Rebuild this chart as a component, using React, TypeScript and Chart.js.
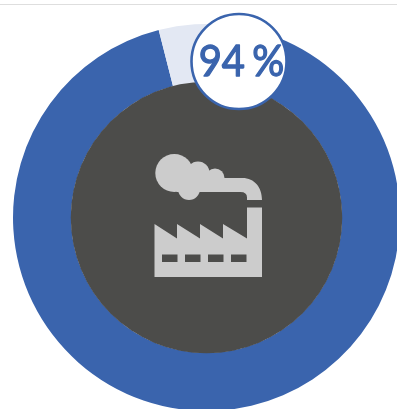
import React, { useEffect, useRef } from "react";
import { Chart, registerables } from "chart.js";

Chart.register(...registerables);

const categories = ["Share", "Remainder"];
const shareValues = [94, 6];
const sliceColors = ["#3A64AD", "#E3E8F3"];
const labelText = "94 %";

const discColor = "#4C4C4A";
const iconColor = "#CCCCCC";

const centerDecor = {
  id: "centerDecor",
  afterDatasetsDraw(chart: any) {
    const arc = chart.getDatasetMeta(0).data[0];
    const { x: cx, y: cy, innerRadius } = arc;
    const ctx = chart.ctx;
    ctx.save();
    // dark disc
    ctx.fillStyle = discColor;
    ctx.beginPath();
    ctx.arc(cx, cy, innerRadius + 0.3, 0, Math.PI * 2);
    ctx.fill();

    // factory icon (origin at the disc centre)
    ctx.translate(cx, cy);
    ctx.fillStyle = iconColor;
    const circle = (x: number, y: number, r: number) => {
      ctx.beginPath();
      ctx.arc(x, y, r, 0, Math.PI * 2);
      ctx.fill();
    };
    circle(-32.2, -44.5, 19);
    circle(-8.5, -44.5, 11.5);
    circle(8.5, -39.5, 9.5);
    circle(-17.5, -28.5, 11);
    // smoke body + pipe
    ctx.beginPath();
    ctx.moveTo(-30, -46);
    ctx.lineTo(3, -46);
    ctx.lineTo(10, -39.5);
    ctx.lineTo(36, -39.5);
    ctx.bezierCurveTo(48, -39.5, 55.5, -30, 55.5, -17.5);
    ctx.lineTo(40.5, -17.5);
    ctx.lineTo(40.5, -20);
    ctx.quadraticCurveTo(40.5, -25.5, 34, -25.5);
    ctx.lineTo(-30, -25.5);
    ctx.closePath();
    ctx.fill();
    // building
    ctx.beginPath();
    ctx.moveTo(-52, 6.5);
    ctx.lineTo(-29.5, 21);
    ctx.lineTo(-29.5, 6.5);
    ctx.lineTo(-6.5, 21);
    ctx.lineTo(-6.5, 6.5);
    ctx.lineTo(16.5, 21);
    ctx.lineTo(16.5, 6.5);
    ctx.lineTo(40.5, 21);
    ctx.lineTo(40.5, -10);
    ctx.lineTo(55.5, -10);
    ctx.lineTo(55.5, 59.5);
    ctx.lineTo(-52, 59.5);
    ctx.closePath();
    ctx.fill();
    // windows
    ctx.fillStyle = discColor;
    [-44.5, -21.5, 1.5, 24.5].forEach((x) => ctx.fillRect(x, 37, 15.5, 7.5));
    ctx.restore();

    // value badge
    ctx.save();
    ctx.beginPath();
    ctx.arc(239, 61.5, 47.5, 0, Math.PI * 2);
    ctx.fillStyle = "#FFFFFF";
    ctx.fill();
    ctx.lineWidth = 2.6;
    ctx.strokeStyle = "#3A64AD";
    ctx.stroke();
    ctx.fillStyle = "#3A64AD";
    ctx.strokeStyle = "#3A64AD";
    ctx.lineWidth = 1.3;
    ctx.lineJoin = "round";
    ctx.font = "42px Lato";
    ctx.textAlign = "center";
    ctx.textBaseline = "middle";
    (ctx as any).wordSpacing = "-3px";
    ctx.translate(241.5, 62);
    ctx.scale(0.95, 1);
    ctx.fillText(labelText, 0, 0);
    ctx.strokeText(labelText, 0, 0);
    ctx.restore();
  },
};

export default function App() {
  const ref = useRef<HTMLCanvasElement>(null);
  useEffect(() => {
    const chart = new Chart(ref.current!, {
      type: "doughnut",
      data: {
        labels: categories,
        datasets: [
          {
            data: shareValues,
            backgroundColor: sliceColors,
            borderWidth: 0,
          },
        ],
      },
      options: {
        responsive: false,
        animation: false,
        rotation: 7.3,
        cutout: "70%",
        layout: { padding: 13 },
        plugins: { legend: { display: false }, tooltip: { enabled: false } },
      },
      plugins: [centerDecor],
    });
    return () => chart.destroy();
  }, []);
  return (
    <div
      style={{
        position: "fixed",
        left: 0,
        top: 0,
        width: 397,
        height: 409,
        overflow: "hidden",
        background: "#fff",
      }}
    >
      <div
        style={{
          position: "absolute",
          left: 0,
          top: 4,
          width: 397,
          height: 1,
          background: "#DEDEDE",
        }}
      />
      <canvas
        ref={ref}
        width={413}
        height={435}
        style={{ position: "absolute", left: 0, top: 0, width: 413, height: 435 }}
      />
    </div>
  );
}
